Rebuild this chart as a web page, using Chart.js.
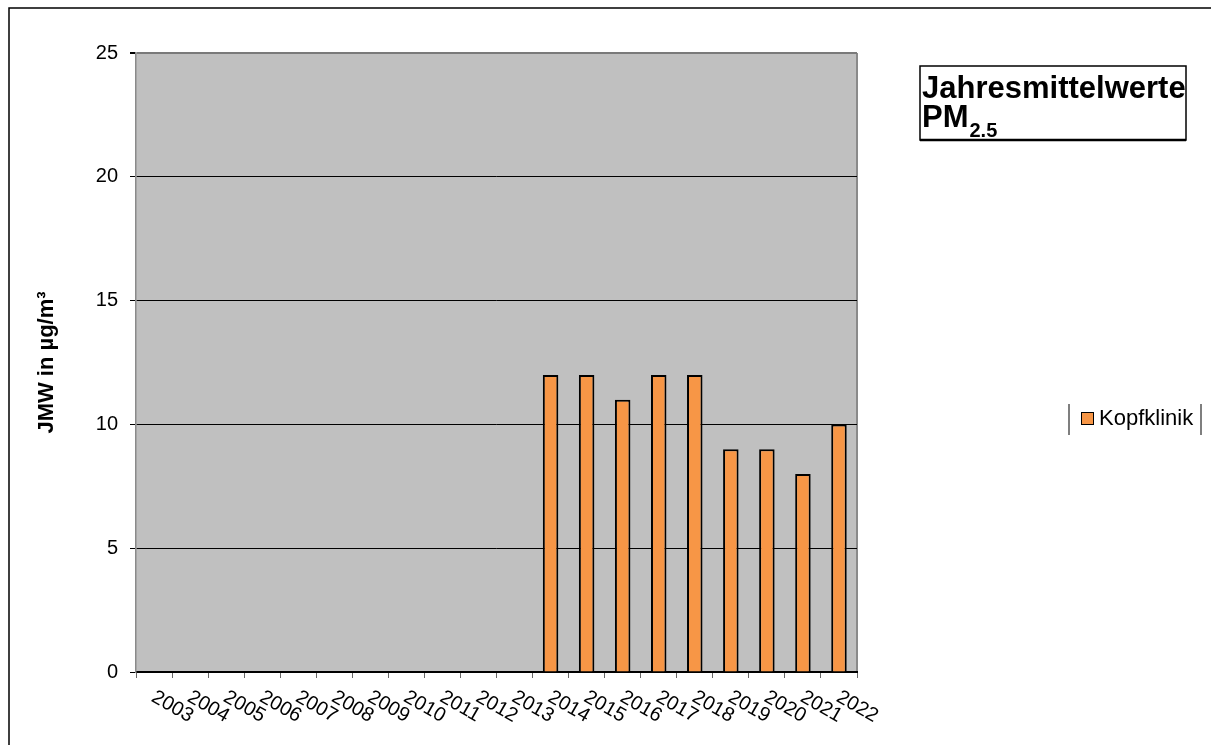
<!DOCTYPE html>
<html>
<head>
<meta charset="utf-8">
<script src="https://cdn.jsdelivr.net/npm/chart.js@4"></script>
<style>
  html, body { margin: 0; padding: 0; background: #fff; }
  #wrap { width: 1211px; height: 745px; position: relative; }
</style>
</head>
<body>
<div id="wrap"><canvas id="chart" width="1211" height="745"></canvas></div>
<script>
// Daten
const years = ["2003","2004","2005","2006","2007","2008","2009","2010","2011","2012",
               "2013","2014","2015","2016","2017","2018","2019","2020","2021","2022"];
const kopfklinik = [null,null,null,null,null,null,null,null,null,null,
                    null,12,12,11,12,12,9,9,8,10];
const yTicks = [0, 5, 10, 15, 20, 25];
const seriesLabel = "Kopfklinik";
const titleMain = "Jahresmittelwerte";
const titlePM = "PM";
const titleSub = "2.5";
const yTitle = "JMW in µg/m³";

const FONT = "Arial, 'Liberation Sans', sans-serif";
const ORANGE = "#F79646";

// Hintergrund, Rahmen, Achsenbeschriftung unten, Titel und Legende
const decorPlugin = {
  id: "decor",
  beforeDraw(chart) {
    const ctx = chart.ctx;
    const a = chart.chartArea;
    ctx.save();
    ctx.fillStyle = "#fff";
    ctx.fillRect(0, 0, chart.width, chart.height);
    // äußerer Rahmen
    ctx.strokeStyle = "#000";
    ctx.lineWidth = 1.5;
    ctx.strokeRect(9, 8, chart.width + 20, chart.height + 20);
    // Plotfläche
    ctx.fillStyle = "#C0C0C0";
    ctx.fillRect(a.left, a.top, a.right - a.left, a.bottom - a.top);
    ctx.strokeStyle = "#8a8a8a";
    ctx.lineWidth = 2;
    ctx.beginPath();
    ctx.moveTo(a.right, a.top);
    ctx.lineTo(a.right, a.bottom);
    ctx.stroke();
    ctx.restore();
  },
  afterDraw(chart) {
    const ctx = chart.ctx;
    const a = chart.chartArea;
    const xs = chart.scales.x;
    ctx.save();
    // x-Achsenbeschriftung, schräg nach unten
    ctx.fillStyle = "#000";
    ctx.font = "20px " + FONT;
    ctx.textAlign = "left";
    ctx.textBaseline = "top";
    years.forEach((y, i) => {
      const px = xs.getPixelForTick(i);
      ctx.save();
      ctx.translate(px + 4, a.bottom + 15);
      ctx.rotate(30 * Math.PI / 180);
      ctx.fillText(y, 0, 0);
      ctx.restore();
    });

    // Titelbox
    ctx.strokeStyle = "#000";
    ctx.lineWidth = 1.5;
    ctx.strokeRect(920, 66, 266, 74);
    ctx.lineWidth = 2.5;
    ctx.beginPath();
    ctx.moveTo(920, 140);
    ctx.lineTo(1186, 140);
    ctx.stroke();
    ctx.textBaseline = "alphabetic";
    ctx.font = "bold 31px " + FONT;
    ctx.fillText(titleMain, 922, 98);
    ctx.fillText(titlePM, 922, 127);
    const pmW = ctx.measureText(titlePM).width;
    ctx.font = "bold 20px " + FONT;
    ctx.fillText(titleSub, 922 + pmW + 1, 137);

    // Legende
    ctx.strokeStyle = "#555";
    ctx.lineWidth = 1.5;
    ctx.beginPath();
    ctx.moveTo(1069, 404); ctx.lineTo(1069, 435);
    ctx.moveTo(1201, 404); ctx.lineTo(1201, 435);
    ctx.stroke();
    ctx.fillStyle = ORANGE;
    ctx.fillRect(1081, 412, 13, 13);
    ctx.strokeStyle = "#000";
    ctx.lineWidth = 1;
    ctx.strokeRect(1081.5, 412.5, 12, 12);
    ctx.fillStyle = "#000";
    ctx.font = "22px " + FONT;
    ctx.textBaseline = "middle";
    ctx.fillText(seriesLabel, 1099, 419);
    ctx.restore();
  }
};

new Chart(document.getElementById("chart"), {
  type: "bar",
  data: {
    labels: years,
    datasets: [{
      label: seriesLabel,
      data: kopfklinik,
      backgroundColor: ORANGE,
      borderColor: "#000",
      borderWidth: 2,
      borderSkipped: "bottom",
      categoryPercentage: 1,
      barPercentage: 0.43
    }]
  },
  options: {
    responsive: false,
    animation: false,
    devicePixelRatio: 1,
    layout: { padding: { left: 0, right: 354, top: 53, bottom: 0 } },
    plugins: {
      legend: { display: false },
      tooltip: { enabled: false }
    },
    scales: {
      x: {
        grid: {
          offset: true,
          drawOnChartArea: false,
          drawTicks: true,
          tickLength: 6,
          color: "#666"
        },
        border: { color: "#000", width: 2 },
        ticks: { display: false },
        afterFit(scale) { scale.height = 73; }
      },
      y: {
        min: 0,
        max: 25,
        afterBuildTicks(scale) { scale.ticks = yTicks.map(v => ({ value: v })); },
        grid: {
          color: ctx => (ctx.tick && ctx.tick.value === 25 ? "#7a7a7a" : "#000"),
          lineWidth: ctx => (ctx.tick && ctx.tick.value === 25 ? 2 : 1),
          tickLength: 6,
          tickColor: "#000"
        },
        border: { color: "#8a8a8a", width: 1.5 },
        ticks: {
          color: "#000",
          padding: 12,
          font: { family: FONT, size: 20 }
        },
        title: {
          display: true,
          text: yTitle,
          color: "#000",
          font: { family: FONT, size: 22, weight: "bold" },
          padding: { top: 34, bottom: 0 }
        },
        afterFit(scale) { scale.width = 136; }
      }
    }
  },
  plugins: [decorPlugin]
});
</script>
</body>
</html>
